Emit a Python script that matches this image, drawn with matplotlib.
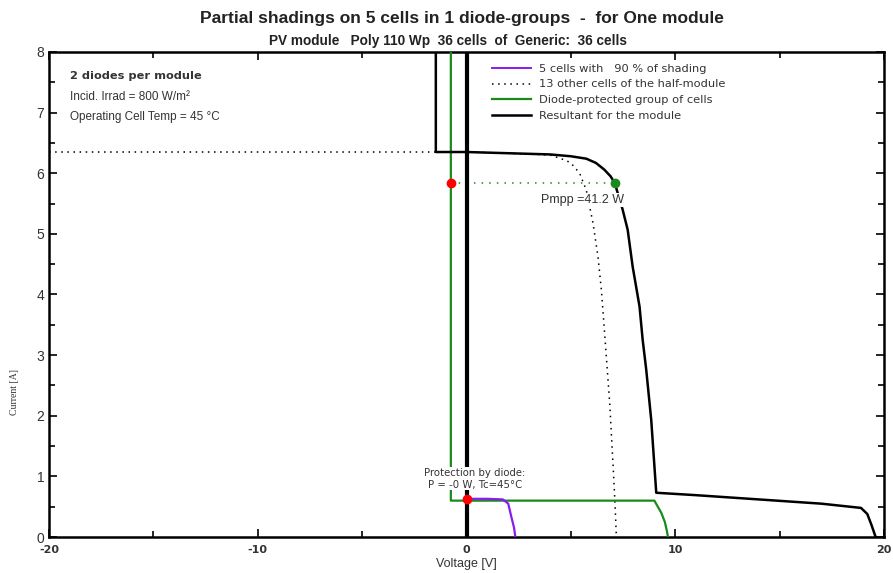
import matplotlib
matplotlib.use('Agg')
import matplotlib.pyplot as plt
from matplotlib import ticker
from matplotlib.lines import Line2D

plt.rcParams['axes.unicode_minus'] = False

# data (V in volts, I in amps)

# resultant for the module
module_v = [-1.47, -1.47, 0.0, 2.0, 4.0, 5.0, 5.74, 6.2, 6.6, 6.9, 7.1, 7.48, 7.72, 7.96, 8.29, 8.44, 8.61, 8.85, 9.09,
            11.0, 14.0, 17.0, 18.9, 19.2, 19.4, 19.6]
module_i = [8.0, 6.35, 6.35, 6.33, 6.31, 6.28, 6.24, 6.17, 6.06, 5.95, 5.84, 5.4, 5.07, 4.46, 3.8, 3.25, 2.76, 1.93, 0.73,
            0.69, 0.62, 0.55, 0.48, 0.38, 0.2, 0.0]

# 13 other cells of the half-module
other_v = [-20.0, -1.47, 0.0, 2.0, 4.0, 4.7, 5.0, 5.42, 5.74, 6.06, 6.3, 6.46, 6.57, 6.86, 7.05, 7.12, 7.18]
other_i = [6.35, 6.35, 6.35, 6.33, 6.3, 6.22, 6.17, 6.0, 5.72, 5.18, 4.62, 4.08, 3.58, 2.21, 1.0, 0.5, 0.0]

# diode-protected group of cells
group_v = [-0.75, -0.75, 4.0, 9.0, 9.33, 9.5, 9.6, 9.65]
group_i = [8.0, 0.6, 0.6, 0.6, 0.4, 0.25, 0.1, 0.0]

# 5 shaded cells
shaded_v = [0.0, 1.0, 1.74, 2.0, 2.15, 2.28, 2.34]
shaded_i = [0.63, 0.63, 0.62, 0.55, 0.33, 0.15, 0.0]

# operating points
mpp_v, mpp_i = 7.1, 5.84
group_op_v = -0.75
shaded_op_v, shaded_op_i = 0.0, 0.62

PURPLE = '#8a1cf0'
GREEN = '#1a8a1a'
TXT = '#333333'
WHITE_BOX = dict(facecolor='white', edgecolor='none', pad=0.5)


def plot_curves(ax):
    ax.plot(other_v, other_i, color='black', linestyle=(0, (1, 3)), linewidth=1.1, zorder=2)
    ax.plot(group_v, group_i, color=GREEN, linewidth=1.6, zorder=3)
    ax.plot(shaded_v, shaded_i, color=PURPLE, linewidth=1.6, zorder=3)
    ax.plot(module_v, module_i, color='black', linewidth=1.8, zorder=4)
    ax.axvline(0, color='black', linewidth=3, zorder=4)

    ax.plot([group_op_v, mpp_v], [mpp_i, mpp_i], color=GREEN, linestyle=(0, (1, 4)), linewidth=1.1, zorder=2)
    ax.plot([group_op_v], [mpp_i], 'o', color='red', markersize=6, zorder=7)
    ax.plot([mpp_v], [mpp_i], 'o', color=GREEN, markersize=6, zorder=7)
    ax.plot([shaded_op_v], [shaded_op_i], 'o', color='red', markersize=6, zorder=7)


def decorate(ax):
    ax.set_xlim(-20, 20)
    ax.set_ylim(0, 8)
    ax.xaxis.set_major_locator(ticker.MultipleLocator(10))
    ax.xaxis.set_minor_locator(ticker.MultipleLocator(5))
    ax.yaxis.set_major_locator(ticker.MultipleLocator(1))
    ax.yaxis.set_minor_locator(ticker.MultipleLocator(0.5))
    ax.tick_params(which='both', direction='in', top=True, right=True, width=1.2, colors='black')
    ax.tick_params(which='major', length=6)
    ax.tick_params(which='minor', length=4)
    ax.tick_params(axis='x', which='major', pad=6)
    for lab in ax.get_xticklabels():
        lab.set_fontfamily('DejaVu Sans')
        lab.set_fontsize(8)
        lab.set_fontweight('bold')
        lab.set_color(TXT)
    for lab in ax.get_yticklabels():
        lab.set_fontfamily('Liberation Sans')
        lab.set_fontsize(10)
        lab.set_color(TXT)
    for side in ax.spines:
        ax.spines[side].set_linewidth(1.8)

    ax.set_xlabel('Voltage [V]', fontsize=9, family='Liberation Sans', color=TXT, labelpad=2)
    ax.set_ylabel('Current [A]', fontsize=7, family='Liberation Serif', color=TXT, labelpad=14)
    ax.yaxis.set_label_coords(-0.036, 0.3)


def annotate(fig, ax):
    fig.text(0.517, 0.968, 'Partial shadings on 5 cells in 1 diode-groups  -  for One module',
             ha='center', va='center', fontsize=12.5, fontweight='bold', family='Liberation Sans', color='#222222')
    fig.text(0.502, 0.928, 'PV module   Poly 110 Wp  36 cells  of  Generic:  36 cells',
             ha='center', va='center', fontsize=9.8, fontweight='bold', family='Liberation Sans', color='#222222')

    ax.text(-19.0, 7.6, '2 diodes per module', fontsize=8.2, fontweight='bold', family='DejaVu Sans', color=TXT,
            va='center')
    ax.text(-19.0, 7.25, 'Incid. Irrad = 800 W/m²', fontsize=8.5, family='Liberation Sans', color=TXT, va='center')
    ax.text(-19.0, 6.93, 'Operating Cell Temp = 45 °C', fontsize=8.5, family='Liberation Sans', color=TXT,
            va='center')

    ax.text(3.55, 5.56, 'Pmpp =41.2 W', fontsize=9, family='Liberation Sans', color=TXT, va='center',
            bbox=WHITE_BOX, zorder=6)
    ax.text(0.4, 0.965, 'Protection by diode:\nP = -0 W, Tc=45°C', fontsize=7.3, family='DejaVu Sans',
            color=TXT, ha='center', va='center', linespacing=1.25, bbox=WHITE_BOX, zorder=6)

    handles = [Line2D([], [], color=PURPLE, linewidth=1.4),
               Line2D([], [], color='black', linestyle=(0, (1, 3)), linewidth=1.1),
               Line2D([], [], color=GREEN, linewidth=1.6),
               Line2D([], [], color='black', linewidth=1.8)]
    labels = ['5 cells with   90 % of shading', '13 other cells of the half-module',
              'Diode-protected group of cells', 'Resultant for the module']
    leg = ax.legend(handles, labels, loc='upper left', bbox_to_anchor=(0.525, 0.985), frameon=False,
                    prop={'family': 'DejaVu Sans', 'size': 8.2}, handlelength=3.4, handletextpad=0.7,
                    labelspacing=0.5, borderaxespad=0)
    for t in leg.get_texts():
        t.set_color(TXT)


def execute():
    fig = plt.figure(figsize=(8.93, 5.73), dpi=100)
    ax = fig.add_axes([0.0549, 0.0628, 0.935, 0.8465])
    plot_curves(ax)
    decorate(ax)
    annotate(fig, ax)
    fig.savefig('out.png', dpi=100, facecolor='white')


if __name__ == '__main__':
    execute()
